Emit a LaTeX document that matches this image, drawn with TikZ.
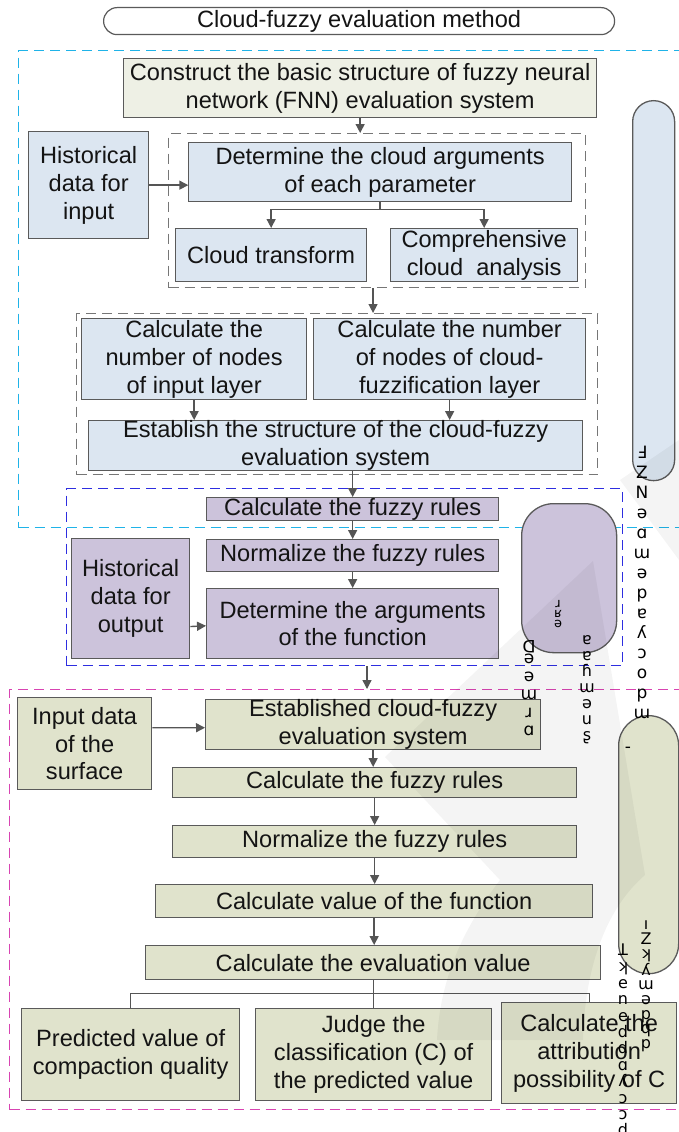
\documentclass[tikz,border=0pt]{standalone}
\usepackage{fontspec}
\setmainfont{Liberation Sans}
\newfontfamily\glyphfont{DejaVu Sans}
\usetikzlibrary{arrows.meta,calc}
\definecolor{bordc}{HTML}{5A5A5A}
\definecolor{bluef}{HTML}{DCE6F1}
\definecolor{purpf}{HTML}{CCC3DB}
\definecolor{greenf}{HTML}{E0E3CC}
\definecolor{constf}{HTML}{EEF0E5}
\definecolor{cyanc}{HTML}{1FB3E8}
\definecolor{bluec}{HTML}{2E2EE0}
\definecolor{magc}{HTML}{D844B2}
\definecolor{grayd}{HTML}{767676}
\definecolor{arrc}{HTML}{555555}
\newcommand\bx[7]{\node[#1, minimum width={(#5-#3)*1pt}, minimum height={(#6-#4)*1pt}] (#2) at (#3,#4) {#7};}
\begin{document}
\begin{tikzpicture}[x=1pt,y=-1pt,
  box/.style={draw=bordc, line width=1.3pt, inner sep=0pt, align=center, anchor=north west,
    font=\fontsize{23.6}{27.8}\selectfont, text=black!92},
  bbox/.style={box, fill=bluef},
  pbox/.style={box, fill=purpf},
  gbox/.style={box, fill=greenf},
  grp/.style={draw, line width=1.1pt, dash pattern=on 10pt off 6pt, inner sep=0pt, anchor=north west},
  arr/.style={draw=arrc, line width=1.4pt, -{Triangle[width=9pt,length=9pt]}},
  ln/.style={draw=arrc, line width=1.3pt},
  glyph/.style={inner sep=0pt, align=center, text=black, font=\glyphfont\fontsize{17}{20}\selectfont},
  wmark/.style={fill=black, fill opacity=0.045, draw=none}
]
\useasboundingbox (0,0) rectangle (679,1132);
\fill[white] (0,0) rectangle (679,1132);

% group frames
\bx{grp, draw=cyanc}{cg}{18}{50}{720}{527}{}
\bx{grp, draw=grayd}{g1}{168}{133}{585}{287}{}
\bx{grp, draw=grayd}{g2}{76}{313}{597}{474}{}
\bx{grp, draw=bluec}{bg}{66}{488}{622}{665}{}
\bx{grp, draw=magc}{mg}{9}{689}{720}{1109}{}

% title
\bx{box, fill=white, rounded corners=13.5pt, line width=1.2pt}{title}{103}{7}{614}{34}{Cloud-fuzzy evaluation method}

% capsules
\bx{box, fill=bluef, rounded corners=21pt}{capb}{632}{100}{674}{480}{}
\bx{box, fill=purpf, rounded corners=32pt}{capp}{521}{503}{616}{652}{}
\bx{box, fill=greenf, rounded corners=30pt}{capg}{618}{715}{678}{973}{}

% top part
\bx{box, fill=constf}{con}{123}{58}{596}{117}{Construct the basic structure of fuzzy neural\\network (FNN) evaluation system}
\bx{bbox}{hi}{28}{131}{148}{238}{Historical\\data for\\input}
\bx{bbox}{det}{188}{142}{571}{201}{Determine the cloud arguments\\of each parameter}
\bx{bbox}{ct}{175}{228}{366}{281}{Cloud transform}
\bx{bbox}{ca}{390}{228}{577}{281}{Comprehensive\\cloud\ \ analysis}
\bx{bbox}{n1}{81}{318}{306}{399}{Calculate the\\number of nodes\\of input layer}
\bx{bbox}{n2}{313}{318}{585}{399}{Calculate the number\\of nodes of cloud-\\fuzzification layer}
\bx{bbox}{est}{88}{420}{582}{470}{Establish the structure of the cloud-fuzzy\\evaluation system}

% purple part
\bx{pbox}{fr1}{206}{497}{498}{520}{Calculate the fuzzy rules}
\bx{pbox}{nr1}{206}{539}{498}{571}{Normalize the fuzzy rules}
\bx{pbox}{da}{206}{588}{498}{658}{Determine the arguments\\of the function}
\bx{pbox}{ho}{71}{538}{189}{658}{Historical\\data for\\output}

% bottom part
\bx{gbox}{id}{17}{697}{151}{789}{Input data\\of the\\surface}
\bx{gbox}{es}{205}{699}{540}{749}{Established cloud-fuzzy\\evaluation system}
\bx{gbox}{fr2}{172}{767}{576}{797}{Calculate the fuzzy rules}
\bx{gbox}{nr2}{172}{825}{576}{857}{Normalize the fuzzy rules}
\bx{gbox}{cv}{155}{884}{592}{917}{Calculate value of the function}
\bx{gbox}{ev}{145}{945}{600}{979}{Calculate the evaluation value}
\bx{gbox}{pv}{21}{1008}{239}{1100}{Predicted value of\\compaction quality}
\bx{gbox}{jc}{255}{1008}{491}{1100}{Judge the\\classification (C) of\\the predicted value}
\bx{gbox}{at}{501}{1002}{676}{1103}{Calculate the\\attribution\\possibility of C}

% connectors
\draw[arr] (con.south) -- (con.south |- g1.north);
\draw[arr] ($(hi.north east)!0.5!(hi.south east)$) -- ++(39,0);
\draw[arr] (det.south) -- ++(0,7) -| (ct.north);
\draw[arr] (det.south) -- ++(0,7) -| (ca.north);
\draw[arr] ([xshift=-4pt]g1.south) -- ([xshift=-4pt]g1.south |- g2.north);
\draw[arr] (n1.south) -- (n1.south |- est.north);
\draw[arr] (n2.south) -- (n2.south |- est.north);
\draw[arr] (est.south -| fr1.north) -- (fr1.north);
\draw[arr] (fr1.south) -- (nr1.north);
\draw[arr] (nr1.south) -- (da.north);
\draw[arr] ($(ho.north east)!0.73!(ho.south east)$) -- ($(da.north west)!0.53!(da.south west)$);
\draw[arr] ([xshift=301pt]bg.south west) -- ([xshift=301pt]bg.south west |- mg.north);
\draw[arr] ($(id.north east)!0.33!(id.south east)$) -- ($(es.north west)!0.56!(es.south west)$);
\draw[arr] (es.south) -- (es.south |- fr2.north);
\draw[arr] (fr2.south) -- (fr2.south |- nr2.north);
\draw[arr] (nr2.south) -- (nr2.south |- cv.north);
\draw[arr] (cv.south) -- (cv.south |- ev.north);
\draw[ln] (ev.south) -- (ev.south |- jc.north);
\draw[ln] (ev.south) -- ++(0,13) -| (pv.north);
\draw[ln] (ev.south) -- ++(0,13) -| (at.north);

% broken vertical texts
\node[glyph] (ga) at (642,582) {Ⅎ\\Z\\N\\ǝ\\ɑ\\ɯ\\ǝ\\p\\ɐ\\ʎ\\ɔ\\o\\p\\ɯ};
\node[glyph, font=\glyphfont\fontsize{16}{14.6}\selectfont] (gb) at (646,986) {ı\\Z\\ʞ\\ʎ\\ɯ\\ǝ\\p\\q\\p};
\node[glyph, font=\glyphfont\fontsize{16}{16.4}\selectfont] (gc) at (623,1040) {ꓕ\\ʞ\\e\\n\\e\\d\\d\\ɑ\\ʎ\\ɔ\\ɔ\\d};
\node[glyph, font=\glyphfont\fontsize{17}{18}\selectfont] (gd) at (529,688) {\rotatebox{180}{D}\\ǝ\\ǝ\\ɯ\\ɹ\\ɑ};
\node[glyph, font=\glyphfont\fontsize{13}{10}\selectfont] (ge) at (558,614) {ɹ\\ʁ\\ǝ};
\node[glyph, font=\glyphfont\fontsize{16}{16}\selectfont] (gf) at (587,690) {ɐ\\ɐ\\ɦ\\ɯ\\ǝ\\u\\ʂ};
\node[glyph] (gg) at (628,750) {-};

% faint watermark overlay
\path[wmark] (593,561) -- (385,757) -- (500,880)
  .. controls (462,930) and (440,980) .. (437,1040) -- (583,1040)
  .. controls (585,960) and (610,905) .. (645,875) -- cycle;
\path[wmark] (620,480) -- (679,440) -- (679,560) -- cycle;
\end{tikzpicture}
\end{document}
